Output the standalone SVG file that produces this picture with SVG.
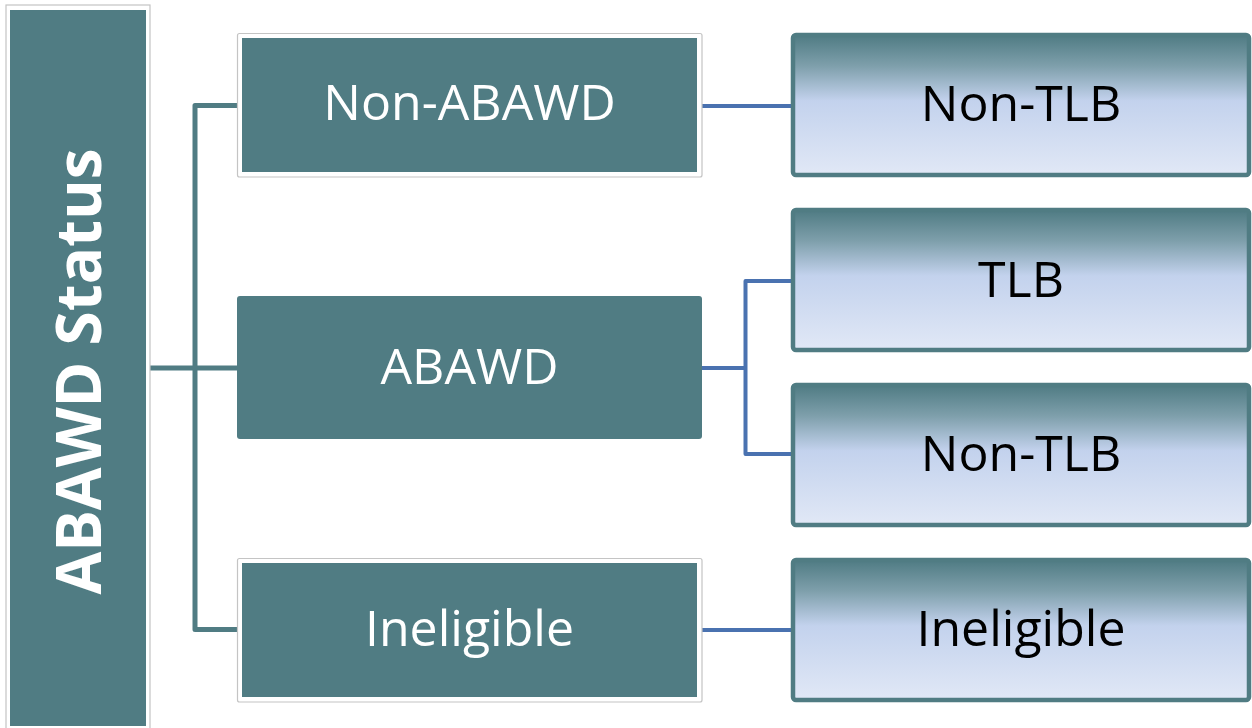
<svg xmlns="http://www.w3.org/2000/svg" width="1252" height="728" viewBox="0 0 1252 728">
<defs>
<linearGradient id="g" x1="0" y1="0" x2="0" y2="1">
<stop offset="0" stop-color="#4f7b83"/>
<stop offset="0.22" stop-color="#7e9fab"/>
<stop offset="0.47" stop-color="#c3d2ed"/>
<stop offset="1" stop-color="#e1e8f6"/>
</linearGradient>
</defs>
<style>
.frame{fill:#ffffff;stroke:#c4c4c4;stroke-width:1.2}
.teal{fill:#507c83}
.rbox{fill:url(#g);stroke:#507c83;stroke-width:4.5}
.tc{fill:none;stroke:#507c83;stroke-width:5;stroke-linejoin:round}
.bc{fill:none;stroke:#4a72b0;stroke-width:4;stroke-linejoin:round}
.wt{font-family:"Open Sans",sans-serif;font-size:50px;fill:#ffffff;text-anchor:middle}
.bt{font-family:"Open Sans",sans-serif;font-size:50px;fill:#000000;text-anchor:middle}
</style>
<rect width="1252" height="728" fill="#ffffff"/>
<g id="connectors">
<path class="tc" d="M150,368 H237"/>
<path class="tc" d="M237,105.5 H195 V629.5 H237"/>
<path class="bc" d="M702,106 H792"/>
<path class="bc" d="M702,368 H745.5"/>
<path class="bc" d="M792,281 H745.5 V454 H792"/>
<path class="bc" d="M702,630 H792"/>
</g>
<g id="abawd-status">
<rect class="frame" x="6" y="5" width="144" height="730"/>
<rect class="teal" x="10" y="10" width="136" height="716"/>
<text class="wt" style="font-weight:bold;font-size:62px" transform="translate(101,371.5) rotate(-90)">ABAWD Status</text>
</g>
<g id="non-abawd">
<rect class="frame" x="237.5" y="33.5" width="464.5" height="143.5" rx="2"/>
<rect class="teal" x="242" y="38" width="455" height="134"/>
<text class="wt" x="469.5" y="120">Non-ABAWD</text>
</g>
<g id="abawd">
<rect class="teal" x="237" y="296" width="465" height="143" rx="3"/>
<text class="wt" x="469.5" y="384">ABAWD</text>
</g>
<g id="ineligible">
<rect class="frame" x="237.5" y="558.5" width="464.5" height="143.5" rx="2"/>
<rect class="teal" x="242" y="563" width="455" height="134"/>
<text class="wt" x="469.5" y="646">Ineligible</text>
</g>
<g id="non-tlb-1">
<rect class="rbox" x="793" y="35" width="456" height="140" rx="3"/>
<text class="bt" x="1021" y="121">Non-TLB</text>
</g>
<g id="tlb">
<rect class="rbox" x="793" y="210" width="456" height="140" rx="3"/>
<text class="bt" x="1021" y="297">TLB</text>
</g>
<g id="non-tlb-2">
<rect class="rbox" x="793" y="385" width="456" height="140" rx="3"/>
<text class="bt" x="1021" y="471">Non-TLB</text>
</g>
<g id="ineligible-2">
<rect class="rbox" x="793" y="560" width="456" height="140" rx="3"/>
<text class="bt" x="1021" y="646">Ineligible</text>
</g>
</svg>
